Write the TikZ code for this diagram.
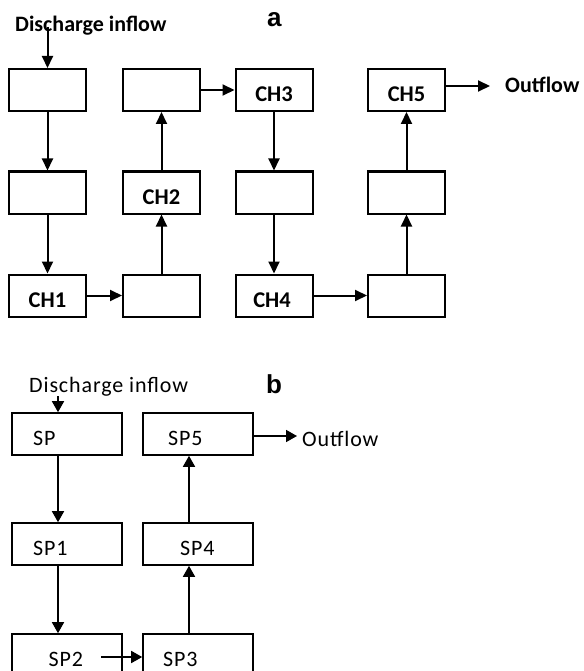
\documentclass[tikz,border=0pt]{standalone}
\usepackage{fontspec}
\setmainfont{Carlito}
\newfontfamily\spf{Carlito}[LetterSpace=4]
\newfontfamily\lbf{Liberation Sans}
\usetikzlibrary{arrows.meta}
\begin{document}
\begin{tikzpicture}[x=1pt,y=-1pt,
  boxa/.style={draw, line width=2pt, minimum width=77pt, minimum height=42pt, inner sep=0pt},
  boxb/.style={draw, line width=1.6pt, minimum width=110pt, minimum height=42pt, inner sep=0pt},
  txa/.style={font=\fontsize{22.5}{26}\selectfont\bfseries, inner sep=0pt, anchor=base},
  txaw/.style={font=\fontsize{22}{26}\selectfont\bfseries, inner sep=0pt, anchor=base west},
  txb/.style={font=\fontsize{22}{26}\selectfont\spf, inner sep=0pt, anchor=base west},
  panel/.style={font=\fontsize{26}{30}\selectfont\lbf\bfseries, inner sep=0pt, anchor=base west},
  arra/.style={line width=2pt, -{Triangle[length=12pt,width=11pt]}},
  arrb/.style={line width=1.6pt, -{Triangle[length=11pt,width=12pt]}},
]
\useasboundingbox (0,0) rectangle (583,671);
\clip (0,0) rectangle (583,671);

% ---------- panel a ----------
\node[panel] (pa) at (267,27) {a};
\node[txaw] (ina_t) at (15,32) {Discharge inflow};
\node[txaw] (outa_t) at (505,93) {Outflow};

\node[boxa] (a11) at (47.5,90) {};
\node[boxa] (a12) at (161.5,90) {};
\node[boxa] (a13) at (274,90) {};
\node[boxa] (a14) at (406.5,90) {};
\node[boxa] (a21) at (47.5,192.5) {};
\node[boxa] (a22) at (161.5,192.5) {};
\node[boxa] (a23) at (274,192.5) {};
\node[boxa] (a24) at (406.5,192.5) {};
\node[boxa] (a31) at (47.5,295.5) {};
\node[boxa] (a32) at (161.5,295.5) {};
\node[boxa] (a33) at (274,295.5) {};
\node[boxa] (a34) at (406.5,295.5) {};

\node[txa] (ch1) at (47.5,307) {CH1};
\node[txa] (ch2) at (161.5,204) {CH2};
\node[txa] (ch3) at (274,101.5) {CH3};
\node[txa] (ch4) at (272,307) {CH4};
\node[txa] (ch5) at (406.5,102) {CH5};

\coordinate (ina) at (47.5,27);
\coordinate (outa) at (490,86);
\draw[arra] (ina) -- (a11.north);
\draw[arra] (a11.south) -- (a21.north);
\draw[arra] (a21.south) -- (a31.north);
\draw[arra] (a31.east) -- (a32.west);
\draw[arra] (a32.north) -- (a22.south);
\draw[arra] (a22.north) -- (a12.south);
\draw[arra] (a12.east) -- (a13.west);
\draw[arra] (a13.south) -- (a23.north);
\draw[arra] (a23.south) -- (a33.north);
\draw[arra] (a33.east) -- (a34.west);
\draw[arra] (a34.north) -- (a24.south);
\draw[arra] (a24.north) -- (a14.south);
\draw[arra] (a14.east |- outa) -- (outa);

% ---------- panel b ----------
\node[panel] (pb) at (266,393) {b};
\node[txb] (inb_t) at (29,392) {Discharge inflow};
\node[txb] (outb_t) at (302,446) {Outflow};

\node[boxb] (b11) at (67,434) {};
\node[boxb] (b12) at (198,434) {};
\node[boxb] (b21) at (67,544) {};
\node[boxb] (b22) at (198,544) {};
\node[boxb] (b31) at (67,655) {};
\node[boxb] (b32) at (198,655) {};

\node[txb] (sp) at (33,445) {SP};
\node[txb] (sp5) at (168,445) {SP5};
\node[txb] (sp1) at (33,555) {SP1};
\node[txb] (sp4) at (180,555) {SP4};
\node[txb] (sp2) at (48.5,666) {SP2};
\node[txb] (sp3) at (163,666) {SP3};

\coordinate (inb) at (58,396);
\coordinate (colb) at (189,0);
\coordinate (sp2a) at (101,657);
\coordinate (outb) at (297,436);
\draw[arrb] (inb) -- (inb |- b11.north);
\draw[arrb] (inb |- b11.south) -- (inb |- b21.north);
\draw[arrb] (inb |- b21.south) -- (inb |- b31.north);
\draw[arrb] (sp2a) -- (b32.west |- sp2a);
\draw[arrb] (colb |- b32.north) -- (colb |- b22.south);
\draw[arrb] (colb |- b22.north) -- (colb |- b12.south);
\draw[arrb] (b12.east |- outb) -- (outb);
\end{tikzpicture}
\end{document}
